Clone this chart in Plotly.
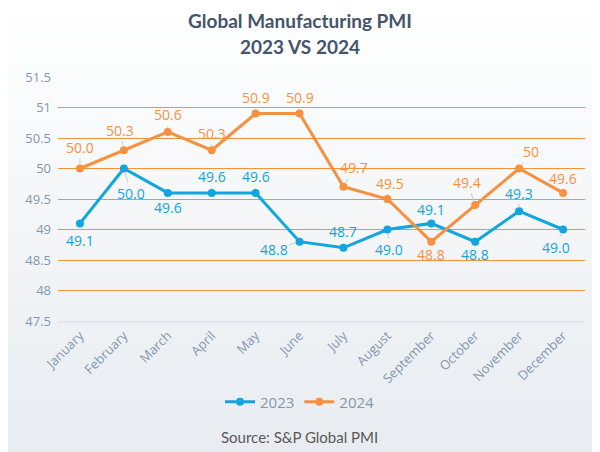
import base64
import plotly.graph_objects as go

months = ["January", "February", "March", "April", "May", "June", "July",
          "August", "September", "October", "November", "December"]
pmi_2023 = [49.1, 50.0, 49.6, 49.6, 49.6, 48.8, 48.7, 49.0, 49.1, 48.8, 49.3, 49.0]
pmi_2024 = [50.0, 50.3, 50.6, 50.3, 50.9, 50.9, 49.7, 49.5, 48.8, 49.4, 50.0, 49.6]
labels_2023 = ["49.1", "50.0", "49.6", "49.6", "49.6", "48.8", "48.7", "49.0", "49.1", "48.8", "49.3", "49.0"]
labels_2024 = ["50.0", "50.3", "50.6", "50.3", "50.9", "50.9", "49.7", "49.5", "48.8", "49.4", "50", "49.6"]
y_ticks = [47.5, 48, 48.5, 49, 49.5, 50, 50.5, 51, 51.5]

BLUE = "#12a5de"
ORANGE = "#f7903f"
FONT = "Open Sans"

# label offsets in pixels (style)
off_2023 = [(0, 17), (7, 25), (0, 15), (0, -16), (0, -16), (-26, 8),
            (0, -16), (2, 20), (0, -14), (0, 13), (0, -18), (-7, 18)]
off_2024 = [(0, -21), (-4, -20), (0, -17), (0, -17), (0, -16), (0, -16),
            (11, -19), (3, -16), (0, 13), (-8, -23), (12, -17), (0, -14)]

fig = go.Figure()
fig.add_trace(go.Scatter(x=months, y=pmi_2023, name="2023", mode="lines+markers",
                         line=dict(color=BLUE, width=3), marker=dict(size=8, color=BLUE)))
fig.add_trace(go.Scatter(x=months, y=pmi_2024, name="2024", mode="lines+markers",
                         line=dict(color=ORANGE, width=3), marker=dict(size=8, color=ORANGE)))

# page has an 8px body margin, so the figure is drawn 8px smaller
OFF = 8
W, H = 600 - OFF, 452 - OFF
L, R, T, B = 58 - OFF, 15, 77 - OFF, 131
pw, ph = W - L - R, H - T - B

def py(p):
    return (H - B - (p - OFF)) / ph

def px(p):
    return ((p - OFF) - L) / pw

annotations = []
for series, labels, offs, col in [(pmi_2023, labels_2023, off_2023, BLUE),
                                  (pmi_2024, labels_2024, off_2024, ORANGE)]:
    for m, v, t, (dx, dy) in zip(months, series, labels, offs):
        annotations.append(dict(x=m, y=v, xref="x", yref="y", text=t,
                                showarrow=True, arrowhead=0, arrowwidth=1,
                                arrowcolor="#c8ccd2", standoff=4, ax=dx, ay=dy,
                                xanchor="center", yanchor="middle",
                                font=dict(family=FONT, size=14, color=col)))
annotations.append(dict(text="Source: S&P Global PMI", xref="paper", yref="paper",
                        x=px(299), y=py(437),
                        showarrow=False, xanchor="center", yanchor="middle",
                        font=dict(family="Lato", size=15, color="#595959")))
for txt, p in [("Global Manufacturing PMI", 21), ("2023 VS 2024", 46)]:
    annotations.append(dict(text="<b>" + txt + "</b>", xref="paper", yref="paper",
                            x=px(300), y=py(p), showarrow=False, borderpad=0,
                            xanchor="center", yanchor="middle",
                            font=dict(family="Lato", size=19, color="#44546a")))

svg = ("<svg xmlns='http://www.w3.org/2000/svg' width='600' height='452' preserveAspectRatio='none'>"
       "<defs><linearGradient id='g' x1='0' y1='0' x2='0' y2='1'>"
       "<stop offset='0' stop-color='#ffffff'/><stop offset='1' stop-color='#e8ecf0'/>"
       "</linearGradient></defs><rect width='600' height='452' fill='url(#g)'/></svg>")
src = "data:image/svg+xml;base64," + base64.b64encode(svg.encode()).decode()

fig.update_layout(
    width=W, height=H,
    margin=dict(l=L, r=R, t=T, b=B),
    paper_bgcolor="white", plot_bgcolor="rgba(0,0,0,0)",
    xaxis=dict(type="category", range=[-0.5, 11.5], tickangle=-45, showgrid=False,
               showline=True, linecolor="#e2e6ea", linewidth=2, ticks="", automargin=False,
               tickfont=dict(family=FONT, size=13, color="#8497b0")),
    yaxis=dict(range=[47.5, 51.5], tickvals=y_ticks, showgrid=True, gridcolor="#f6913c",
               gridwidth=1, zeroline=False, showline=False, ticks="", automargin=False,
               ticklabelstandoff=6,
               tickfont=dict(family=FONT, size=13, color="#8497b0")),
    legend=dict(orientation="h", x=(300 - OFF) / W, xanchor="center", xref="container",
                y=1 - (402 - OFF) / H, yanchor="middle", yref="container", itemwidth=30,
                font=dict(family=FONT, size=15, color="#8497b0"), bgcolor="rgba(0,0,0,0)"),
    annotations=annotations,
    images=[dict(source=src, xref="paper", yref="paper", x=-L / pw, y=1 + T / ph,
                 sizex=W / pw, sizey=H / ph, sizing="stretch", xanchor="left",
                 yanchor="top", layer="below")],
)

fig.write_html("out.html")
